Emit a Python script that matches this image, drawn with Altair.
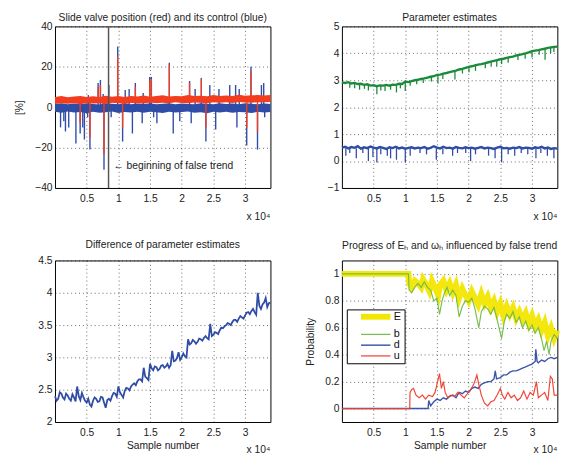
import altair as alt
import pandas as pd

FONT = "Liberation Sans"
X_MAX = 34000
X_TICKS = [5000, 10000, 15000, 20000, 25000, 30000]
PW, PH = 220, 165

RED = "#f43c1f"
BLUE = "#2f4ca6"
GREEN = "#1c8a3b"
YELLOW = "#f3e600"
LGREEN = "#72bd46"
LRED = "#ef3b2a"

# ---------------- panel 1: slide valve position (red) and its control (blue)
band_x = list(range(0, 34001, 1000))
ctrl_lo = [-2.3, -2.8, -2.1, -2.6, -2.4, -3.0, -2.2, -2.7, -2.5, -2.1, -2.9, -2.4, -2.6, -2.2, -2.8, -2.3, -2.5, -2.9,
           -2.2, -2.6, -2.4, -2.1, -2.7, -2.5, -3.0, -2.3, -2.6, -2.2, -2.8, -2.4, -2.5, -2.9, -2.3, -2.6, -2.4]
ctrl_hi = [1.6, 1.9, 1.4, 1.8, 1.5, 2.0, 1.6, 1.3, 1.9, 1.7, 1.5, 2.0, 1.4, 1.8, 1.6, 1.9, 1.5, 1.7,
           2.0, 1.4, 1.8, 1.6, 1.5, 1.9, 1.7, 1.4, 2.0, 1.6, 1.8, 1.5, 1.9, 1.7, 1.4, 1.8, 1.6]
valve_lo = [1.6, 2.0, 1.7, 1.9, 1.5, 2.1, 1.8, 2.0, 1.6, 2.2, 1.9, 1.7, 2.1, 2.0, 1.8, 2.3, 1.9, 2.2,
            2.0, 2.4, 2.1, 1.9, 2.3, 2.2, 2.0, 2.5, 2.2, 2.4, 2.1, 2.6, 2.3, 2.2, 2.5, 2.4, 2.6]
valve_hi = [5.0, 5.5, 4.9, 5.3, 5.6, 5.1, 5.4, 5.0, 5.7, 5.2, 5.5, 5.1, 5.6, 5.3, 5.8, 5.2, 5.5, 5.9,
            5.3, 5.6, 5.4, 6.0, 5.5, 5.7, 5.4, 6.1, 5.6, 5.8, 5.5, 6.2, 5.7, 5.9, 6.0, 5.8, 6.1]

ctrl_spike_x = [876, 1392, 1649, 2165, 3299, 3969, 4381, 4639, 5155, 5258, 5515, 6804, 7165, 7600, 7732,
                8505, 8866, 9897, 10670, 11082, 11701, 12216, 12680, 13763, 13918, 14948, 15206, 15567,
                16082, 18041, 18660, 19691, 21237, 21495, 22113, 23093, 23814, 24433, 25361, 25876,
                27577, 28505, 28711, 29072, 30258, 30928, 31959, 32577, 32938, 33093]
ctrl_spike_y = [-10, -7, -12, -10, -18, -13, -10, -16, -5, 6, -21, 12, 13.5, 6.5, -31,
                11, -5, 30, -17, 8.5, 9, -13, 12, -8, 7, 15, 15, -5,
                -8, 22, -13, -7, 13, -8, 9, 14.5, -17, 11, -11, 9,
                11, 11, -10, 9, -19, 20, -21, 11, 12, -5]
valve_spike_x = [3969, 5515, 6804, 7165, 7732, 9897, 10670, 12680, 14948, 15206, 18041, 21237, 23093,
                 23814, 30258, 30928, 31959]
valve_spike_y = [-8, -15, 10, 11, -23, 25, -10, 10, 13, 14, 21, 12, 14, -10, -10, 18, -12]
trend_start = 8450

# ---------------- panel 2: parameter estimates
est_x = list(range(0, 34001, 500))
est_green = [2.92, 2.9, 2.93, 2.88, 2.9, 2.86, 2.87, 2.83, 2.85, 2.8, 2.82, 2.78, 2.81, 2.8, 2.83, 2.8, 2.84,
             2.83, 2.87, 2.86, 2.95, 2.93, 2.97, 3.0, 3.02, 3.05, 3.07, 3.1, 3.13, 3.15, 3.2, 3.21, 3.25,
             3.27, 3.3, 3.33, 3.36, 3.4, 3.42, 3.46, 3.5, 3.52, 3.55, 3.58, 3.6, 3.63, 3.66, 3.69, 3.72,
             3.75, 3.78, 3.8, 3.83, 3.86, 3.88, 3.92, 3.94, 3.97, 4.0, 4.04, 4.08, 4.1, 4.12, 4.15, 4.17,
             4.2, 4.22, 4.24, 4.25]
est_blue = [0.5, 0.53, 0.47, 0.52, 0.49, 0.55, 0.46, 0.51, 0.48, 0.54,
            0.5, 0.47, 0.52, 0.49, 0.45, 0.51, 0.48, 0.53, 0.47, 0.5,
            0.46, 0.49, 0.51, 0.47, 0.5, 0.48, 0.52, 0.46, 0.49, 0.55,
            0.5, 0.47, 0.53, 0.48, 0.5, 0.46, 0.52, 0.49, 0.47, 0.51,
            0.48, 0.5, 0.46, 0.49, 0.52, 0.47, 0.5, 0.48, 0.45, 0.5,
            0.53, 0.47, 0.49, 0.46, 0.5, 0.48, 0.52, 0.47, 0.5, 0.49,
            0.46, 0.51, 0.48, 0.53, 0.47, 0.5, 0.45, 0.48, 0.46]
gspike_x = [1237, 2010, 2784, 3557, 4175, 5515, 6134, 6804, 7680, 8608, 9227, 10000, 10773, 11804, 12835,
            14124, 15155, 15928, 17835, 19021, 20052, 21082, 22629, 23557, 24433, 25206, 26237, 27784,
            28918, 30000, 31134, 32062, 32938, 33454]
gspike_base = [2.9, 2.88, 2.86, 2.83, 2.82, 2.8, 2.8, 2.82, 2.83, 2.85, 2.87, 2.92, 2.96, 3.0, 3.06,
               3.14, 3.2, 3.24, 3.36, 3.43, 3.5, 3.55, 3.64, 3.69, 3.74, 3.79, 3.84, 3.93,
               4.0, 4.08, 4.12, 4.17, 4.22, 4.24]
gspike_tip = [2.72, 2.7, 2.65, 2.68, 2.62, 2.48, 2.62, 2.6, 2.65, 2.55, 2.7, 2.6, 2.8, 2.85, 2.9,
              2.95, 2.88, 3.05, 3.03, 3.25, 3.3, 3.35, 3.45, 3.5, 3.5, 3.6, 3.65, 3.75,
              3.8, 3.85, 3.95, 3.76, 4.0, 4.05]
bspike_x = [619, 1237, 2268, 3299, 4175, 4897, 5515, 6134, 7165, 7680, 8608, 10000, 10773, 12320, 13350,
            14897, 15928, 17474, 18247, 19536, 20309, 21082, 23144, 24175, 25206, 26237, 27268, 28299,
            29330, 30619, 31392, 32423, 33454]
bspike_tip = [0.2, 0.3, 0.1, 0.3, 0.0, 0.15, -0.05, 0.25, 0.2, 0.1, 0.05, -0.05, 0.2, 0.3, 0.25,
              0.05, 0.25, 0.2, 0.3, 0.3, 0.0, 0.25, 0.2, 0.1, -0.05, 0.25, 0.2, 0.3,
              0.25, 0.1, 0.3, 0.2, 0.1]

# ---------------- panel 3: difference of parameter estimates
diff_x_main = list(range(0, 34001, 500))
diff_main = [2.40, 2.36, 2.44, 2.35, 2.41, 2.33, 2.38, 2.55, 2.34, 2.38, 2.30, 2.27, 2.33, 2.36, 2.32,
             2.38, 2.22, 2.36, 2.40, 2.44, 2.55, 2.42, 2.48, 2.52, 2.55, 2.60, 2.63, 2.66, 2.84, 2.68,
             2.90, 2.80, 2.85, 2.82, 2.88, 2.86, 2.84, 3.10, 2.95, 3.08, 3.00, 3.02, 3.28, 3.22, 3.25,
             3.24, 3.28, 3.30, 3.30, 3.52, 3.35, 3.38, 3.42, 3.45, 3.50, 3.52, 3.55, 3.58, 3.60, 3.62,
             3.65, 3.70, 3.72, 3.70, 4.00, 3.75, 3.85, 3.78, 3.85]
diff_x_mid = list(range(250, 34000, 500))
diff_mid = [2.33, 2.46, 2.38, 2.44, 2.36, 2.43, 2.32, 2.40, 2.45, 2.33, 2.36, 2.24, 2.38, 2.31, 2.39,
            2.30, 2.34, 2.33, 2.45, 2.39, 2.46, 2.38, 2.53, 2.49, 2.58, 2.57, 2.66, 2.63, 2.70, 2.65,
            2.83, 2.86, 2.80, 2.87, 2.84, 2.90, 2.88, 2.94, 2.99, 2.96, 3.06, 3.00, 3.20, 3.27, 3.21,
            3.29, 3.26, 3.33, 3.28, 3.33, 3.39, 3.36, 3.46, 3.48, 3.53, 3.50, 3.58, 3.55, 3.64, 3.60,
            3.69, 3.67, 3.75, 3.66, 3.80, 3.82, 3.92, 3.84]

# ---------------- panel 4: progress of E_h and omega_h
E_x = [0, 10500, 10600, 11000, 11500, 12000, 12500, 12800, 13300, 13800, 14200, 14700, 15200, 15500, 16000,
       16500, 17000, 17500, 18000, 18500, 19000, 19500, 20000, 20500, 21000, 21500, 22000, 22500, 23000,
       23500, 24000, 24500, 25000, 25500, 26000, 26500, 27000, 27500, 28000, 28500, 29000, 29500, 30000,
       30500, 31000, 31500, 32000, 32500, 33000, 33500, 34000]
E_y = [1.0, 1.0, 0.93, 0.9, 0.95, 0.93, 0.9, 0.96, 0.92, 0.87, 0.95, 0.9, 0.84, 0.92, 0.95,
       0.88, 0.93, 0.86, 0.92, 0.82, 0.89, 0.84, 0.8, 0.87, 0.82, 0.77, 0.85, 0.78, 0.83,
       0.75, 0.8, 0.72, 0.78, 0.69, 0.76, 0.7, 0.75, 0.67, 0.72, 0.66, 0.71, 0.63, 0.69,
       0.61, 0.66, 0.58, 0.64, 0.54, 0.6, 0.52, 0.58]
b_x = [0, 10500, 10600, 11000, 11500, 12000, 12500, 13000, 13500, 14000, 14500, 15000, 15400, 15800, 16200,
       16600, 17000, 17500, 18000, 18500, 19000, 19500, 20000, 20500, 21000, 21600, 22000, 22500, 23000,
       23500, 24000, 24500, 25200, 25600, 26000, 26500, 27000, 27500, 28000, 28500, 29000, 29500, 30000,
       30500, 31000, 31500, 31900, 32300, 32700, 33000, 33500, 34000]
b_y = [1.0, 1.0, 0.88, 0.86, 0.9, 0.93, 0.9, 0.94, 0.9, 0.88, 0.8, 0.82, 0.7, 0.8, 0.86,
       0.9, 0.84, 0.88, 0.84, 0.68, 0.76, 0.8, 0.79, 0.82, 0.74, 0.6, 0.72, 0.76, 0.74,
       0.7, 0.75, 0.66, 0.52, 0.64, 0.7, 0.67, 0.72, 0.64, 0.68, 0.6, 0.65, 0.58, 0.62,
       0.56, 0.6, 0.52, 0.43, 0.5, 0.4, 0.5, 0.55, 0.52]
d_x = [0, 13600, 13700, 14000, 14500, 15000, 15500, 16000, 16500, 17000, 17500, 18000, 18500, 19000, 19500,
       20000, 20500, 21000, 21500, 22000, 22500, 23000, 23500, 24000, 24200, 24400, 25000, 25500, 26000,
       26500, 27000, 27500, 28000, 28500, 29000, 29500, 30000, 30500, 30600, 30800, 31000, 31500, 32000,
       32500, 33000, 33500, 34000]
d_y = [0, 0, 0.06, 0.02, 0.05, 0.07, 0.06, 0.08, 0.07, 0.09, 0.1, 0.08, 0.12, 0.11, 0.13,
       0.12, 0.15, 0.16, 0.15, 0.18, 0.19, 0.2, 0.2, 0.22, 0.28, 0.22, 0.23, 0.25, 0.25,
       0.27, 0.28, 0.28, 0.29, 0.3, 0.31, 0.32, 0.33, 0.35, 0.44, 0.35, 0.34, 0.36, 0.35,
       0.37, 0.38, 0.37, 0.38]
u_x = [0, 10700, 10750, 11000, 11300, 11700, 12200, 12700, 13200, 13700, 14300, 14700, 15100, 15400, 15700,
       16000, 16300, 16700, 17200, 17800, 18300, 18800, 19300, 19800, 20300, 20800, 21300, 21600, 22000,
       22500, 23000, 23500, 24000, 24500, 25000, 25300, 25700, 26200, 26700, 27200, 27700, 28200, 28700,
       29200, 29700, 30200, 30700, 31000, 31500, 32000, 32500, 32900, 33200, 33500, 34000]
u_y = [0, 0, 0.12, 0.14, 0.15, 0.1, 0.08, 0.1, 0.07, 0.1, 0.09, 0.12, 0.2, 0.26, 0.15,
       0.2, 0.12, 0.08, 0.1, 0.09, 0.12, 0.1, 0.08, 0.11, 0.14, 0.18, 0.25, 0.18, 0.1,
       0.04, 0.02, 0.05, 0.06, 0.1, 0.15, 0.1, 0.07, 0.12, 0.08, 0.1, 0.06, 0.08, 0.13,
       0.07, 0.12, 0.1, 0.2, 0.08, 0.1, 0.12, 0.06, 0.24, 0.22, 0.1, 0.1]
series_names = ["E", "b", "d", "u"]
series_colors = [YELLOW, LGREEN, BLUE, LRED]
series_widths = [6, 1.2, 1.4, 1.2]

LABEL_EXPR = "replace('' + datum.value, '-', '\u2212')"


# ---------------- helpers
def xenc(title=None):
    return alt.X("x:Q", scale=alt.Scale(domain=[0, X_MAX], nice=False, zero=False),
                 axis=alt.Axis(values=X_TICKS, labelExpr="datum.value / 10000", title=title,
                               titlePadding=3))


def yenc(field, domain, ticks, title=None, pad=10):
    return alt.Y(f"{field}:Q", scale=alt.Scale(domain=domain, nice=False, zero=False),
                 axis=alt.Axis(values=ticks, title=title, titlePadding=pad, labelExpr=LABEL_EXPR))


def exp_label(ypos):
    return alt.Chart(pd.DataFrame({"t": ["x 10\u2074"]})).mark_text(
        align="right", baseline="middle", font=FONT, fontSize=10.5, color="#222"
    ).encode(x=alt.value(PW), y=alt.value(ypos), text="t:N")


# panel 1
Y1 = dict(domain=[-40, 40], ticks=[-40, -20, 0, 20, 40], title="[%]", pad=10)
df_band = pd.DataFrame({"x": band_x, "clo": ctrl_lo, "chi": ctrl_hi, "vlo": valve_lo, "vhi": valve_hi})
df_cs = pd.DataFrame({"x": ctrl_spike_x, "y": ctrl_spike_y})
df_vs = pd.DataFrame({"x": valve_spike_x, "y": valve_spike_y})
df_tr = pd.DataFrame({"x": [trend_start], "y": [-29], "t": ["\u2190 beginning of false trend"]})

p1 = alt.layer(
    alt.Chart(df_band).mark_area(color=BLUE, opacity=1).encode(
        x=xenc(), y=yenc("clo", **Y1), y2="chi"),
    alt.Chart(df_cs).mark_rule(color=BLUE, strokeWidth=1.4).encode(
        x=xenc(), y=yenc("y", **Y1), y2=alt.datum(0)),
    alt.Chart(df_band).mark_area(color=RED, opacity=1).encode(
        x=xenc(), y=yenc("vlo", **Y1), y2="vhi"),
    alt.Chart(df_vs).mark_rule(color=RED, strokeWidth=1.4).encode(
        x=xenc(), y=yenc("y", **Y1), y2=alt.datum(3)),
    alt.Chart(df_tr).mark_rule(color="#555", strokeWidth=1.5).encode(x=xenc()),
    alt.Chart(df_tr).mark_text(align="left", baseline="middle", dx=5, font=FONT, fontSize=10.5,
                               color="#222").encode(x=xenc(), y=yenc("y", **Y1), text="t:N"),
    exp_label(PH + 30),
).properties(width=PW, height=PH,
             title=alt.TitleParams("Slide valve position (red) and its control (blue)", offset=-2))

# panel 2
Y2 = dict(domain=[-1, 5], ticks=[-1, 0, 1, 2, 3, 4, 5])
df_est = pd.DataFrame({"x": est_x, "g": est_green, "b": est_blue})
df_gs = pd.DataFrame({"x": gspike_x, "base": gspike_base, "tip": gspike_tip})
df_bs = pd.DataFrame({"x": bspike_x, "tip": bspike_tip})
p2 = alt.layer(
    alt.Chart(df_gs).mark_rule(color=GREEN, strokeWidth=1.3).encode(
        x=xenc(), y=yenc("tip", **Y2), y2="base"),
    alt.Chart(df_est).mark_line(color=GREEN, strokeWidth=2.4).encode(x=xenc(), y=yenc("g", **Y2)),
    alt.Chart(df_bs).mark_rule(color=BLUE, strokeWidth=1.3).encode(
        x=xenc(), y=yenc("tip", **Y2), y2=alt.datum(0.48)),
    alt.Chart(df_est).mark_line(color=BLUE, strokeWidth=2.4).encode(x=xenc(), y=yenc("b", **Y2)),
    exp_label(PH + 30),
).properties(width=PW, height=PH, title=alt.TitleParams("Parameter estimates", offset=-2))

# panel 3
Y3 = dict(domain=[2, 4.5], ticks=[2, 2.5, 3, 3.5, 4, 4.5])
df_diff = pd.concat([pd.DataFrame({"x": diff_x_main, "v": diff_main}),
                     pd.DataFrame({"x": diff_x_mid, "v": diff_mid})]).sort_values("x")
p3 = alt.layer(
    alt.Chart(df_diff).mark_line(color=BLUE, strokeWidth=1.8).encode(
        x=xenc("Sample number"), y=yenc("v", **Y3)),
    exp_label(PH + 29),
).properties(width=PW, height=PH, title=alt.TitleParams("Difference of parameter estimates", offset=5))

# panel 4
Y4 = dict(domain=[-0.1, 1.1], ticks=[0, 0.2, 0.4, 0.6, 0.8, 1], title="Probability", pad=6)
rows = []
for name, xs, ys in (("E", E_x, E_y), ("b", b_x, b_y), ("d", d_x, d_y), ("u", u_x, u_y)):
    for i, (xv, yv) in enumerate(zip(xs, ys)):
        rows.append({"x": xv, "p": yv, "s": name, "k": i})
df_p = pd.DataFrame(rows)
leg = alt.Legend(orient="none", legendX=298, legendY=289, title=None, symbolType="M3.5,0H18.5",
                 symbolSize=16, labelOffset=35, padding=2, fillColor="white", strokeColor="black",
                 rowPadding=-1, labelFont=FONT, labelFontSize=11, labelColor="#111")
p4 = alt.layer(
    alt.Chart(df_p).mark_line(strokeOpacity=0.95).encode(
        x=xenc("Sample number"), y=yenc("p", **Y4),
        color=alt.Color("s:N", scale=alt.Scale(domain=series_names, range=series_colors), legend=leg),
        strokeWidth=alt.StrokeWidth("s:N", scale=alt.Scale(type="ordinal", domain=series_names,
                                                           range=series_widths), legend=leg),
        order="k:Q"),
    exp_label(PH + 29),
).properties(width=PW, height=PH,
             title=alt.TitleParams("Progress of E\u2095 and \u03c9\u2095 influenced by false trend", offset=9))

chart = alt.concat(p1, p2, p3, p4, columns=2,
                   spacing=alt.RowColnumber(row=17, column=30)).properties(
    padding={"left": 6, "top": 0, "right": 4, "bottom": 0}
).configure_view(stroke="#000", strokeWidth=1).configure_axis(
    labelFont=FONT, labelFontSize=10.5, labelColor="#222", titleFont=FONT, titleFontSize=10.5,
    titleFontWeight="normal", titleColor="#222", grid=True, gridColor="#000", gridOpacity=0.6,
    gridDash=[1, 3], ticks=False, domain=False
).configure_axisX(labelPadding=6).configure_axisY(labelPadding=3, minExtent=21, maxExtent=21).configure_title(
    font=FONT, fontSize=10.5, fontWeight="normal", color="#222", anchor="middle", frame="group"
)

chart.save("out.html", embed_options={"renderer": "svg", "actions": False})
